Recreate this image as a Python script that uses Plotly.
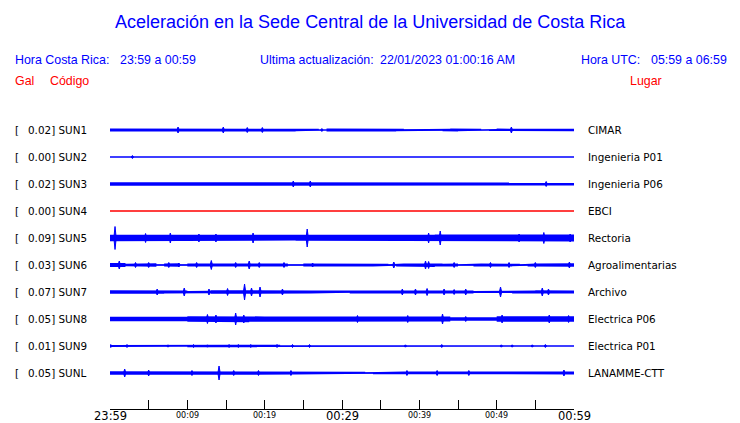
import plotly.graph_objects as go

# ---------------- data ----------------
codes = ["SUN1", "SUN2", "SUN3", "SUN4", "SUN5", "SUN6", "SUN7", "SUN8", "SUN9", "SUNL"]
places = ["CIMAR", "Ingenieria P01", "Ingenieria P06", "EBCI", "Rectoria",
          "Agroalimentarias", "Archivo", "Electrica P06", "Electrica P01", "LANAMME-CTT"]
peak_gal = [0.02, 0.00, 0.02, 0.00, 0.09, 0.03, 0.07, 0.05, 0.01, 0.05]

tick_minutes = [0, 10, 20, 30, 40, 50, 60]
tick_labels = ["23:59", "00:09", "00:19", "00:29", "00:39", "00:49", "00:59"]
tick_major = [True, False, False, True, False, False, True]

# per-minute envelope (half amplitude, relative units)
env_sun1 = [1.5, 1.5, 1.5, 1.5, 1.5, 1.5, 1.5, 1.5, 1.5, 1.2, 1.0, 1.2, 1.5, 1.5, 1.5, 1.5, 1.5, 1.5, 1.5, 1.5,
            0.8, 0.8, 1.2, 1.5, 1.3, 1.3, 1.3, 0.6, 1.5, 1.2, 1.0, 0.9, 1.0, 1.3, 1.3, 1.4, 1.5, 1.2, 0.7, 1.3,
            1.3, 1.3, 0.7, 1.3, 1.5, 1.3, 1.2, 1.2, 0.6, 1.0, 1.4, 1.3, 1.4, 1.3, 1.2, 1.0, 1.5, 1.4, 1.2, 1.2]
env_sun2 = [0.5, 0.5, 0.5, 0.5, 0.5, 0.5, 0.5, 0.5, 0.5, 0.5, 0.5, 0.5, 0.5, 0.5, 0.5, 0.5, 0.5, 0.5, 0.5, 0.5,
            0.5, 0.5, 0.5, 0.5, 0.5, 0.5, 0.5, 0.5, 0.5, 0.5, 0.5, 0.5, 0.5, 0.5, 0.5, 0.5, 0.5, 0.5, 0.5, 0.5,
            0.5, 0.5, 0.5, 0.5, 0.5, 0.5, 0.5, 0.5, 0.5, 0.5, 0.5, 0.5, 0.5, 0.5, 0.5, 0.5, 0.5, 0.5, 0.5, 0.5]
env_sun3 = [1.7, 1.7, 1.7, 1.7, 1.7, 1.7, 1.7, 1.7, 1.7, 1.7, 1.7, 1.7, 1.7, 1.7, 1.7, 1.7, 1.7, 1.7, 1.7, 1.7,
            1.7, 1.7, 1.7, 1.7, 1.7, 1.7, 1.7, 1.7, 1.7, 1.3, 1.3, 1.2, 1.4, 1.4, 1.3, 1.4, 1.5, 1.6, 1.6, 1.6,
            1.6, 1.6, 1.6, 1.6, 1.6, 1.6, 1.6, 1.6, 1.3, 1.4, 1.6, 1.6, 1.6, 1.6, 1.6, 1.6, 1.6, 1.6, 1.6, 1.6]
env_sun4 = [0.5, 0.5, 0.5, 0.5, 0.5, 0.5, 0.5, 0.5, 0.5, 0.5, 0.5, 0.5, 0.5, 0.5, 0.5, 0.5, 0.5, 0.5, 0.5, 0.5,
            0.5, 0.5, 0.5, 0.5, 0.5, 0.5, 0.5, 0.5, 0.5, 0.5, 0.5, 0.5, 0.5, 0.5, 0.5, 0.5, 0.5, 0.5, 0.5, 0.5,
            0.5, 0.5, 0.5, 0.5, 0.5, 0.5, 0.5, 0.5, 0.5, 0.5, 0.5, 0.5, 0.5, 0.5, 0.5, 0.5, 0.5, 0.5, 0.5, 0.5]
env_sun5 = [3.2, 3.0, 3.0, 3.0, 3.2, 2.8, 3.0, 3.0, 2.8, 3.0, 2.8, 3.0, 3.0, 3.0, 2.8, 2.8, 3.0, 3.0, 3.0, 2.8,
            2.8, 2.8, 2.8, 2.6, 2.8, 3.2, 3.0, 2.8, 2.8, 2.8, 2.8, 2.8, 2.8, 2.8, 2.8, 2.8, 2.8, 2.8, 2.8, 3.0,
            3.2, 3.2, 3.4, 3.0, 2.8, 2.8, 2.8, 2.8, 2.8, 2.8, 2.8, 3.0, 3.0, 2.8, 3.0, 3.2, 3.4, 3.0, 3.2, 3.4]
env_sun6 = [2.0, 2.0, 1.2, 1.8, 1.6, 1.8, 0.8, 1.6, 1.8, 0.8, 1.6, 1.8, 1.6, 1.8, 1.4, 1.2, 1.5, 1.6, 1.8, 1.6,
            1.5, 1.3, 1.6, 0.7, 0.8, 1.6, 1.6, 1.2, 1.4, 1.6, 1.6, 1.0, 1.2, 1.6, 1.4, 1.2, 0.8, 1.5, 1.6, 1.6,
            1.8, 2.0, 1.6, 1.2, 1.5, 0.7, 0.8, 1.4, 1.6, 1.6, 1.4, 1.6, 1.2, 0.7, 1.4, 1.6, 1.3, 1.3, 1.2, 1.8]
env_sun7 = [1.8, 1.8, 1.8, 1.8, 1.8, 1.8, 1.8, 1.5, 1.5, 1.5, 1.0, 1.0, 1.3, 1.8, 2.2, 2.2, 1.8, 2.2, 2.0, 2.0,
            1.6, 1.5, 1.6, 1.5, 1.5, 1.6, 1.4, 1.5, 1.4, 1.2, 0.8, 1.4, 1.5, 1.5, 1.5, 1.5, 1.6, 1.8, 1.8, 2.0,
            1.8, 2.0, 1.8, 1.8, 1.6, 1.6, 1.6, 1.0, 0.8, 1.0, 1.2, 1.0, 1.5, 1.5, 1.5, 1.8, 1.8, 1.5, 1.2, 1.4]
env_sun8 = [2.3, 2.2, 2.0, 2.3, 2.3, 2.0, 2.3, 2.3, 2.0, 2.3, 2.8, 3.0, 3.2, 3.2, 3.0, 3.2, 3.0, 3.2, 2.8, 2.6,
            2.4, 2.6, 2.3, 2.3, 2.2, 2.3, 2.3, 2.4, 2.3, 2.2, 2.3, 2.3, 2.6, 2.4, 2.3, 2.3, 2.4, 2.3, 2.6, 2.3,
            2.3, 2.2, 2.2, 2.4, 1.8, 1.6, 1.6, 1.6, 1.6, 1.8, 2.8, 2.6, 2.8, 2.6, 2.8, 2.8, 3.0, 2.8, 2.8, 2.8]
env_sun9 = [1.0, 0.5, 1.2, 1.0, 0.6, 0.5, 0.5, 0.8, 0.5, 0.5, 1.2, 1.2, 0.8, 0.8, 0.8, 1.2, 1.3, 1.2, 1.3, 1.0,
            0.6, 1.2, 0.5, 1.0, 1.0, 1.2, 0.5, 0.5, 0.5, 0.5, 0.5, 0.5, 0.5, 0.5, 0.5, 0.5, 0.5, 0.5, 0.8, 0.5,
            0.5, 0.5, 0.8, 0.5, 0.5, 0.5, 0.5, 0.5, 0.5, 0.5, 0.8, 0.5, 0.8, 0.5, 0.7, 0.5, 0.9, 0.5, 0.5, 0.5]
env_sunl = [1.8, 2.0, 1.8, 1.8, 1.7, 1.8, 1.6, 1.6, 1.6, 1.6, 1.6, 1.6, 1.6, 1.7, 1.8, 1.5, 1.5, 1.5, 1.5, 1.6,
            1.5, 1.5, 1.5, 1.6, 1.5, 1.5, 1.5, 1.5, 1.5, 1.5, 1.4, 1.5, 1.3, 0.8, 1.3, 1.3, 1.3, 1.4, 1.6, 1.4,
            1.4, 1.0, 1.5, 1.3, 1.3, 1.0, 1.4, 1.3, 1.4, 1.3, 1.4, 1.3, 1.3, 1.0, 1.3, 1.3, 1.3, 1.2, 1.5, 1.4]
envelopes = [env_sun1, env_sun2, env_sun3, env_sun4, env_sun5, env_sun6, env_sun7, env_sun8, env_sun9, env_sunl]

# isolated bursts: (minute, half amplitude)
spikes_sun1 = [(8.8, 3), (14.65, 3), (17.75, 2.5), (19.7, 2.5), (27.4, 1.5), (51.9, 3)]
spikes_sun2 = [(2.9, 1.5)]
spikes_sun3 = [(23.7, 3), (25.9, 3), (56.4, 2.5)]
spikes_sun4 = []
spikes_sun5 = [(0.65, 11.5), (4.6, 4.5), (7.8, 5), (11.5, 4), (13.7, 4), (18.5, 5), (25.5, 9),
               (41.2, 5), (42.7, 7), (52.9, 4), (56.1, 5.5), (59.5, 4)]
spikes_sun6 = [(1.2, 4), (3.3, 2.5), (5.0, 2.5), (7.6, 2.5), (8.9, 2), (11.2, 2.5), (13.1, 4.5),
               (16.25, 2.5), (18.0, 4), (19.3, 2.5), (22.5, 2.5), (26.2, 2), (36.7, 3), (40.8, 4),
               (41.2, 3.5), (44.5, 2.5), (49.2, 2.5), (51.6, 2.5), (55.0, 2.5), (59.4, 3)]
spikes_sun7 = [(6.1, 3), (9.6, 4), (12.8, 3), (15.2, 3.5), (17.4, 8), (18.3, 4), (19.4, 5), (22.3, 3),
               (37.8, 3), (39.5, 3), (41.0, 3.5), (43.2, 3), (44.5, 2.5), (46.0, 3), (50.5, 5),
               (55.9, 4), (56.7, 3)]
spikes_sun8 = [(12.6, 4.5), (13.7, 4), (16.25, 6), (17.3, 4), (32.0, 3.5), (38.5, 3.5), (43.0, 5),
               (46.0, 2.5), (50.7, 4), (56.8, 4), (59.3, 3.5)]
spikes_sun9 = [(0.1, 1.5), (2.2, 1.5), (7.5, 1.2), (10.8, 1.5), (12.6, 1.2), (15.4, 1.5), (16.6, 1.5),
               (18.2, 1.5), (21.6, 1.5), (23.6, 1.5), (25.8, 1.5), (38.2, 1.2), (42.9, 1.5),
               (50.6, 1.2), (52.0, 1.2), (54.6, 1.2), (56.3, 1.5)]
spikes_sunl = [(1.9, 4), (5.0, 3), (10.6, 2.5), (14.1, 7), (16.0, 2.5), (19.2, 2.5), (23.4, 2.5),
               (38.4, 2.5), (42.3, 2.5), (46.4, 2.5), (58.7, 3)]
spikes = [spikes_sun1, spikes_sun2, spikes_sun3, spikes_sun4, spikes_sun5, spikes_sun6,
          spikes_sun7, spikes_sun8, spikes_sun9, spikes_sunl]

title_text = "Aceleración en la Sede Central de la Universidad de Costa Rica"
hora_cr = "23:59 a 00:59"
hora_utc = "05:59 a 06:59"
actualizacion = "22/01/2023 01:00:16 AM"

# ---------------- layout geometry ----------------
OFF = 8                      # page body margin of the html wrapper
W, H = 740 - OFF, 423 - OFF
ML, MR, MT, MB = 110 - OFF, 166, 100 - OFF, 14
PW, PH = W - ML - MR, H - MT - MB
ROW_PX = 27.0
Y_TOP = (130 - 100) / ROW_PX
Y_BOT = Y_TOP - PH / ROW_PX

BLUE = "#0000ff"
RED = "#ff0000"
SANS = "Liberation Sans, Arial, sans-serif"
DEJAVU = "DejaVu Sans, sans-serif"


def pxx(px):
    return (px - OFF - ML) / PW


def pxy(py):
    return (H - MB - (py - OFF)) / PH


fig = go.Figure()

for i, code in enumerate(codes):
    y0 = -i
    color = RED if code == "SUN4" else BLUE
    env = envelopes[i]
    xs, up, lo = [], [], []
    for m, a in enumerate(env):
        xs += [m, m + 1]
        up += [y0 + a / ROW_PX] * 2
        lo += [y0 - a / ROW_PX] * 2
    fig.add_trace(go.Scatter(x=xs + xs[::-1], y=up + lo[::-1], mode="lines", fill="toself",
                             fillcolor=color, line=dict(width=0), hoverinfo="skip"))
    fig.add_trace(go.Scatter(x=[0, 60], y=[y0, y0], mode="lines",
                             line=dict(color=color, width=1), hoverinfo="skip"))
    sx, sy = [], []
    for t, a in spikes[i]:
        sx += [t - 0.15, t, t + 0.15, t, t - 0.15, None]
        sy += [y0, y0 + a / ROW_PX, y0, y0 - a / ROW_PX, y0, None]
    if sx:
        fig.add_trace(go.Scatter(x=sx, y=sy, mode="lines", fill="toself", fillcolor=color,
                                 line=dict(color=color, width=1), hoverinfo="skip"))

ann = []


def add_text(text, px, py, size, color, font, xanchor="left"):
    ann.append(dict(text=text, x=pxx(px), y=pxy(py), xref="paper", yref="paper",
                    xanchor=xanchor, yanchor="middle", showarrow=False, borderpad=0,
                    font=dict(size=size, color=color, family=font)))


add_text(title_text, 370, 22, 18, BLUE, SANS, "center")
add_text("Hora Costa Rica:", 14, 60.5, 12.4, BLUE, SANS)
add_text(hora_cr, 119, 60.5, 12.4, BLUE, SANS)
add_text("Ultima actualización:", 259, 60.5, 12.4, BLUE, SANS)
add_text(actualizacion, 379, 60.5, 12.4, BLUE, SANS)
add_text("Hora UTC:", 580, 60.5, 12.4, BLUE, SANS)
add_text(hora_utc, 650, 60.5, 12.4, BLUE, SANS)
add_text("Gal", 14, 80.5, 12.4, RED, SANS)
add_text("Código", 49, 80.5, 12.4, RED, SANS)
add_text("Lugar", 629, 80.5, 12.4, RED, SANS)

for i, code in enumerate(codes):
    py = 130 + ROW_PX * i
    add_text("[", 14, py, 10.4, "#000000", DEJAVU)
    add_text("%.2f] %s" % (peak_gal[i], code), 27, py, 10.4, "#000000", DEJAVU)
    add_text(places[i], 587, py, 10.4, "#000000", DEJAVU)

for t, lab, major in zip(tick_minutes, tick_labels, tick_major):
    ann.append(dict(text=lab, x=t, xref="x", y=pxy(416.2 if major else 415.5), yref="paper",
                    xanchor="center", yanchor="middle", showarrow=False, borderpad=0,
                    font=dict(size=11.5 if major else 8, color="#000000", family=DEJAVU)))

fig.update_layout(
    width=W, height=H,
    margin=dict(l=ML, r=MR, t=MT, b=MB, pad=0),
    paper_bgcolor="white", plot_bgcolor="white",
    showlegend=False, hovermode=False,
    annotations=ann,
    xaxis=dict(range=[0, 60], showgrid=False, zeroline=False, showline=True, linecolor="#000000",
               linewidth=1, ticks="inside", ticklen=9, tickwidth=1, tickcolor="#000000",
               tickvals=list(range(0, 61, 5)), showticklabels=False, fixedrange=True),
    yaxis=dict(range=[Y_BOT, Y_TOP], showgrid=False, zeroline=False, showline=False,
               showticklabels=False, ticks="", fixedrange=True),
)

fig.write_html("out.html")
